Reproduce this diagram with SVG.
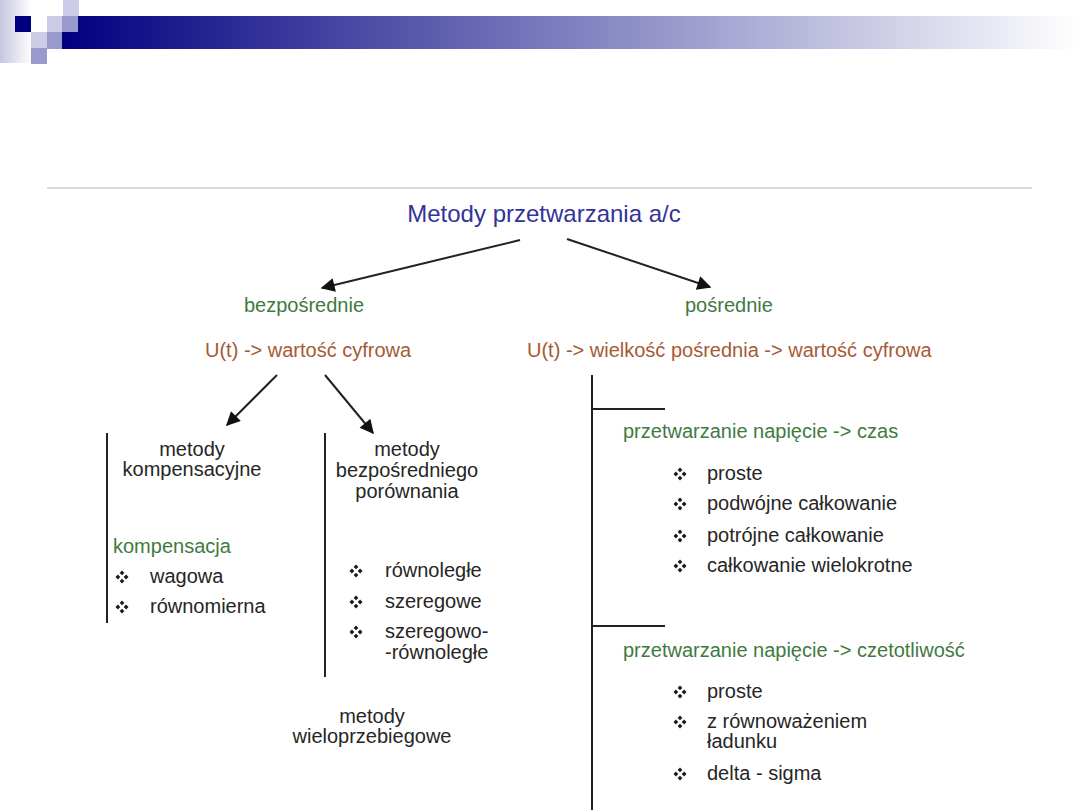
<svg xmlns="http://www.w3.org/2000/svg" width="1080" height="810" viewBox="0 0 1080 810">
<style>
text{font-family:"Liberation Sans",Arial,sans-serif;font-size:20px}
.title{font-size:24px;fill:#333399}
.grn{fill:#3f7a3f}
.brn{fill:#a65a35}
.blk{fill:#262626}
.c{text-anchor:middle}
.conn line{stroke:#222;stroke-width:2}
.vl{stroke:#4a4a4a;stroke-width:2}
</style>
<defs>
<linearGradient id="bar" x1="62" y1="0" x2="1080" y2="0" gradientUnits="userSpaceOnUse">
<stop offset="0" stop-color="#000080"/>
<stop offset="1" stop-color="#ffffff"/>
</linearGradient>
<linearGradient id="pan" x1="0" y1="0" x2="1" y2="0">
<stop offset="0" stop-color="#c6c6e2"/>
<stop offset="1" stop-color="#ffffff"/>
</linearGradient>
<marker id="ah" viewBox="0 0 10 10" refX="9" refY="5" markerWidth="8.5" markerHeight="7" orient="auto" markerUnits="strokeWidth">
<path d="M0,0 L10,5 L0,10 z" fill="#111"/>
</marker>
<g id="bul" fill="#1a1a1a">
<path d="M0,-6.5 L2.4,-4.1 L0,-1.7 L-2.4,-4.1 z"/>
<path d="M0,6.5 L2.4,4.1 L0,1.7 L-2.4,4.1 z"/>
<path d="M-6.5,0 L-4.1,2.4 L-1.7,0 L-4.1,-2.4 z"/>
<path d="M6.5,0 L4.1,2.4 L1.7,0 L4.1,-2.4 z"/>
</g>
</defs>
<rect width="1080" height="810" fill="#fff"/>
<g id="header">
<rect x="0" y="0" width="32" height="63" fill="url(#pan)"/>
<rect x="62" y="16" width="1018" height="33" fill="url(#bar)"/>
<rect x="63" y="0" width="16" height="16" fill="#ccccE6"/>
<rect x="15" y="16" width="16" height="16" fill="#000080"/>
<rect x="47" y="16" width="15" height="16" fill="#ccccE6"/>
<rect x="62" y="16" width="16" height="16" fill="#9999cc"/>
<rect x="31" y="32" width="16" height="16" fill="#ccccE6"/>
<rect x="47" y="32" width="15" height="17" fill="#9999cc"/>
<rect x="31" y="48" width="16" height="16" fill="#9999cc"/>
<line x1="47" y1="188" x2="1032" y2="188" stroke="#cfcfcf" stroke-width="1.5"/>
</g>
<g id="connectors" class="conn">
<line x1="520" y1="240" x2="322" y2="288" marker-end="url(#ah)"/>
<line x1="567" y1="239" x2="710" y2="287" marker-end="url(#ah)"/>
<line x1="277" y1="375" x2="227" y2="425" marker-end="url(#ah)"/>
<line x1="325" y1="375" x2="373" y2="433" marker-end="url(#ah)"/>
<line class="vl" x1="107" y1="433" x2="107" y2="623"/>
<line class="vl" x1="325" y1="433" x2="325" y2="677"/>
<line class="vl" x1="592" y1="375" x2="592" y2="810"/>
<line class="vl" x1="592" y1="409" x2="665" y2="409"/>
<line class="vl" x1="592" y1="626" x2="665" y2="626"/>
</g>
<g id="n-title"><text class="title c" x="544" y="222">Metody przetwarzania a/c</text></g>
<g id="n-bezposrednie">
<text class="grn c" x="304" y="312">bezpośrednie</text>
<text class="brn" x="205" y="357">U(t) -&gt; wartość cyfrowa</text>
</g>
<g id="n-posrednie">
<text class="grn" x="685" y="312">pośrednie</text>
<text class="brn" x="527" y="357">U(t) -&gt; wielkość pośrednia -&gt; wartość cyfrowa</text>
</g>
<g id="n-kompensacyjne">
<text class="blk c" x="192" y="456">metody</text>
<text class="blk c" x="192" y="476">kompensacyjne</text>
<text class="grn" x="113" y="553">kompensacja</text>
<use href="#bul" x="122" y="577"/>
<text class="blk" x="150" y="583">wagowa</text>
<use href="#bul" x="122" y="607"/>
<text class="blk" x="150" y="613">równomierna</text>
</g>
<g id="n-porownania">
<text class="blk c" x="407" y="456">metody</text>
<text class="blk c" x="407" y="477">bezpośredniego</text>
<text class="blk c" x="407" y="498">porównania</text>
<use href="#bul" x="356" y="571"/>
<text class="blk" x="385" y="577">równoległe</text>
<use href="#bul" x="356" y="602"/>
<text class="blk" x="385" y="608">szeregowe</text>
<use href="#bul" x="356" y="632"/>
<text class="blk" x="385" y="638">szeregowo-</text>
<text class="blk" x="385" y="659">-równoległe</text>
</g>
<g id="n-wieloprzebiegowe">
<text class="blk c" x="372" y="723">metody</text>
<text class="blk c" x="372" y="743">wieloprzebiegowe</text>
</g>
<g id="n-czas">
<text class="grn" x="623" y="438">przetwarzanie napięcie -&gt; czas</text>
<use href="#bul" x="680" y="474"/>
<text class="blk" x="707" y="480">proste</text>
<use href="#bul" x="680" y="504"/>
<text class="blk" x="707" y="510">podwójne całkowanie</text>
<use href="#bul" x="680" y="536"/>
<text class="blk" x="707" y="542">potrójne całkowanie</text>
<use href="#bul" x="680" y="566"/>
<text class="blk" x="707" y="572">całkowanie wielokrotne</text>
</g>
<g id="n-czestotliwosc">
<text class="grn" x="623" y="657">przetwarzanie napięcie -&gt; czetotliwość</text>
<use href="#bul" x="680" y="692"/>
<text class="blk" x="707" y="698">proste</text>
<use href="#bul" x="680" y="722"/>
<text class="blk" x="707" y="728">z równoważeniem</text>
<text class="blk" x="707" y="748">ładunku</text>
<use href="#bul" x="680" y="774"/>
<text class="blk" x="707" y="780">delta - sigma</text>
</g>
</svg>
